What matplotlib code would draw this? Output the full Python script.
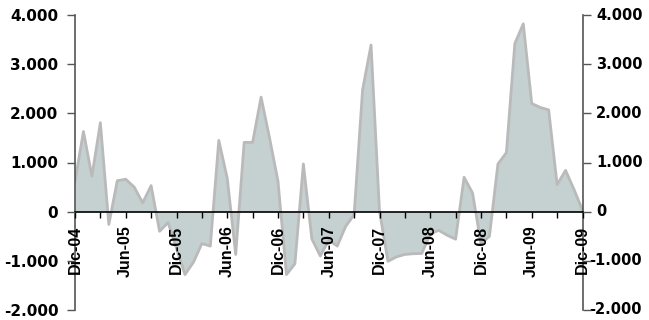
import matplotlib
matplotlib.use('Agg')
import matplotlib.pyplot as plt
import matplotlib.transforms as mtransforms
import numpy as np

# Monthly series, Dic-04 .. Dic-09
months = ['Dic-04', 'Ene-05', 'Feb-05', 'Mar-05', 'Abr-05', 'May-05', 'Jun-05', 'Jul-05', 'Ago-05', 'Sep-05', 'Oct-05', 'Nov-05',
          'Dic-05', 'Ene-06', 'Feb-06', 'Mar-06', 'Abr-06', 'May-06', 'Jun-06', 'Jul-06', 'Ago-06', 'Sep-06', 'Oct-06', 'Nov-06',
          'Dic-06', 'Ene-07', 'Feb-07', 'Mar-07', 'Abr-07', 'May-07', 'Jun-07', 'Jul-07', 'Ago-07', 'Sep-07', 'Oct-07', 'Nov-07',
          'Dic-07', 'Ene-08', 'Feb-08', 'Mar-08', 'Abr-08', 'May-08', 'Jun-08', 'Jul-08', 'Ago-08', 'Sep-08', 'Oct-08', 'Nov-08',
          'Dic-08', 'Ene-09', 'Feb-09', 'Mar-09', 'Abr-09', 'May-09', 'Jun-09', 'Jul-09', 'Ago-09', 'Sep-09', 'Oct-09', 'Nov-09',
          'Dic-09']
values = [620, 1630, 720, 1810, -260, 630, 660, 500, 180, 530, -400, -220,
          -750, -1280, -1030, -650, -700, 1450, 680, -870, 1410, 1410, 2330, 1500,
          620, -1280, -1060, 970, -555, -900, -580, -700, -300, -60, 2480, 3390,
          10, -1010, -920, -870, -855, -850, -450, -380, -480, -560, 700, 380,
          -650, -500, 970, 1200, 3420, 3820, 2200, 2120, 2070, 550, 840, 450,
          30]
y_ticks = [-2000, -1000, 0, 1000, 2000, 3000, 4000]
y_labels = ['-2.000', '-1.000', '0', '1.000', '2.000', '3.000', '4.000']

plt.rcParams['font.family'] = ['Liberation Sans', 'DejaVu Sans']
plt.rcParams['font.weight'] = 'bold'

x = np.arange(len(values))
fig = plt.figure(figsize=(6.49, 3.2), dpi=100)
ax = fig.add_axes([75 / 649, 10 / 320, (582.5 - 75) / 649, 295 / 320])

ax.fill_between(x, values, 0, color='#c5d0d1', linewidth=0, zorder=1)
ax.plot(x, values, color='#bababa', linewidth=2, zorder=2)

ax.set_xlim(0, len(values) - 1)
ax.set_ylim(-2000, 4000)

# x axis sits on zero, ticks every quarter, labels every half year
ax.spines['top'].set_visible(False)
ax.spines['bottom'].set_position(('data', 0))
ax.spines['bottom'].set_color('black')
ax.spines['bottom'].set_linewidth(1.2)
ax.spines['bottom'].set_zorder(5)
for side in ('left', 'right'):
    ax.spines[side].set_color('#555555')
    ax.spines[side].set_linewidth(1.2)
    ax.spines[side].set_zorder(5)
ax.xaxis.set_zorder(6)
ax.yaxis.set_zorder(6)

xt = list(range(0, len(values), 3))
ax.set_xticks(xt)
ax.set_xticklabels([months[i] if i % 6 == 0 else '' for i in xt],
                   rotation=90, fontsize=11.5, fontweight='bold', va='top', ha='center')
ax.tick_params(axis='x', direction='out', length=4, width=1, color='black', pad=6)

ax.set_yticks(y_ticks)
ax.set_yticklabels(y_labels, fontsize=11, fontweight='bold', family='DejaVu Sans')
ax.tick_params(axis='y', left=True, right=True, labelleft=True, labelright=False,
               direction='out', length=6, width=1, color='#555555', pad=6)

# right-hand labels: minus sign hangs out to the left of the digits
base = ax.get_yaxis_transform()
for val, txt in zip(y_ticks, y_labels):
    dx = 7 if val < 0 else 13.5
    tr = mtransforms.offset_copy(base, fig=fig, x=dx, y=0, units='dots')
    ax.text(1, val, txt, transform=tr, ha='left', va='center', fontsize=10.5,
            fontweight='bold', family='DejaVu Sans', clip_on=False)

plt.savefig('out.png', dpi=100)
